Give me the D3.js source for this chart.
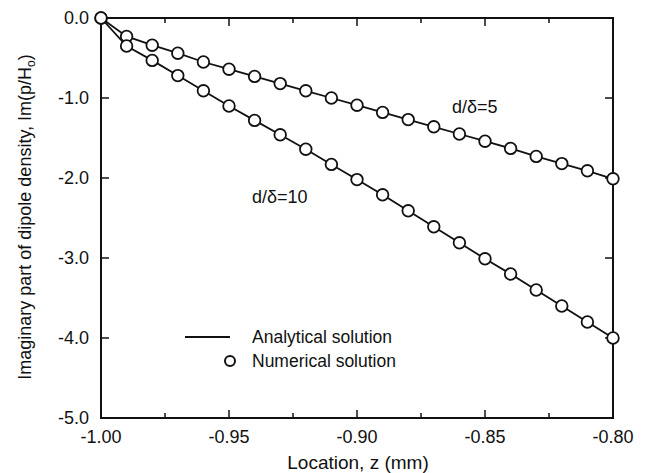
<!DOCTYPE html>
<html><head><meta charset="utf-8">
<script src="https://cdn.jsdelivr.net/npm/d3@7"></script>
<style>body{margin:0;background:#fff}text{font-family:"Liberation Sans",Arial,sans-serif;fill:#111}</style>
</head><body><svg id="c" width="645" height="473"></svg>
<script>
const z = [-1.00,-0.99,-0.98,-0.97,-0.96,-0.95,-0.94,-0.93,-0.92,-0.91,-0.90,-0.89,-0.88,-0.87,-0.86,-0.85,-0.84,-0.83,-0.82,-0.81,-0.80];
const d5 = [0,-0.23,-0.34,-0.44,-0.55,-0.64,-0.73,-0.82,-0.91,-1.00,-1.09,-1.18,-1.27,-1.36,-1.45,-1.54,-1.63,-1.73,-1.82,-1.91,-2.01];
const d10 = [0,-0.35,-0.53,-0.72,-0.91,-1.10,-1.28,-1.46,-1.64,-1.83,-2.02,-2.21,-2.41,-2.61,-2.81,-3.01,-3.20,-3.40,-3.60,-3.80,-4.00];
const xTicks = [-1.00,-0.95,-0.90,-0.85,-0.80];
const xMinor = [-0.975,-0.925,-0.875,-0.825];
const yTicks = [0,-1,-2,-3,-4,-5];
const svg = d3.select("#c");
const L=101,R=613,T=18,B=418;
const x = d3.scaleLinear().domain([-1,-0.8]).range([L,R]);
const y = d3.scaleLinear().domain([-5,0]).range([B,T]);
const g = svg.append("g");
g.append("rect").attr("x",L).attr("y",T).attr("width",R-L).attr("height",B-T).attr("fill","none").attr("stroke","#111").attr("stroke-width",2);
xTicks.forEach(v=>{
  g.append("line").attr("x1",x(v)).attr("x2",x(v)).attr("y1",B).attr("y2",B-8).attr("stroke","#111").attr("stroke-width",1.5);
  g.append("line").attr("x1",x(v)).attr("x2",x(v)).attr("y1",T).attr("y2",T+8).attr("stroke","#111").attr("stroke-width",1.5);
  g.append("text").attr("x",x(v)).attr("y",B+25).attr("text-anchor","middle").attr("font-size",18).text(v.toFixed(2));
});
xMinor.forEach(v=>{
  g.append("line").attr("x1",x(v)).attr("x2",x(v)).attr("y1",B).attr("y2",B-5).attr("stroke","#111").attr("stroke-width",1.5);
  g.append("line").attr("x1",x(v)).attr("x2",x(v)).attr("y1",T).attr("y2",T+5).attr("stroke","#111").attr("stroke-width",1.5);
});
yTicks.forEach(v=>{
  g.append("line").attr("x1",L).attr("x2",L+8).attr("y1",y(v)).attr("y2",y(v)).attr("stroke","#111").attr("stroke-width",1.5);
  g.append("line").attr("x1",R).attr("x2",R-8).attr("y1",y(v)).attr("y2",y(v)).attr("stroke","#111").attr("stroke-width",1.5);
  g.append("text").attr("x",L-12).attr("y",y(v)+6).attr("text-anchor","end").attr("font-size",18).text(v.toFixed(1));
});
g.append("text").attr("x",358).attr("y",469).attr("text-anchor","middle").attr("font-size",19).text("Location, z (mm)");
const yl = g.append("text").attr("transform",`translate(31,217) rotate(-90)`).attr("text-anchor","middle").attr("font-size",18);
yl.append("tspan").text("Imaginary part of dipole density, Im(p/H");
yl.append("tspan").attr("font-size",12).attr("dy",4).text("o");
yl.append("tspan").attr("dy",-4).text(")");
const line = d3.line().x((d,i)=>x(z[i])).y(d=>y(d));
[d5,d10].forEach(s=>{
  g.append("path").attr("d",line(s)).attr("fill","none").attr("stroke","#111").attr("stroke-width",1.8);
  g.selectAll(null).data(s).enter().append("circle").attr("cx",(d,i)=>x(z[i])).attr("cy",d=>y(d)).attr("r",5.8).attr("fill","#fff").attr("stroke","#111").attr("stroke-width",1.8);
});
g.append("text").attr("x",452).attr("y",113).attr("font-size",18).text("d/δ=5");
g.append("text").attr("x",252).attr("y",203).attr("font-size",18).text("d/δ=10");
g.append("line").attr("x1",185).attr("x2",230).attr("y1",337).attr("y2",337).attr("stroke","#111").attr("stroke-width",1.8);
g.append("text").attr("x",252).attr("y",343).attr("font-size",17.5).text("Analytical solution");
g.append("circle").attr("cx",230).attr("cy",361).attr("r",5).attr("fill","#fff").attr("stroke","#111").attr("stroke-width",2);
g.append("text").attr("x",252).attr("y",367).attr("font-size",17.5).text("Numerical solution");
</script></body></html>
